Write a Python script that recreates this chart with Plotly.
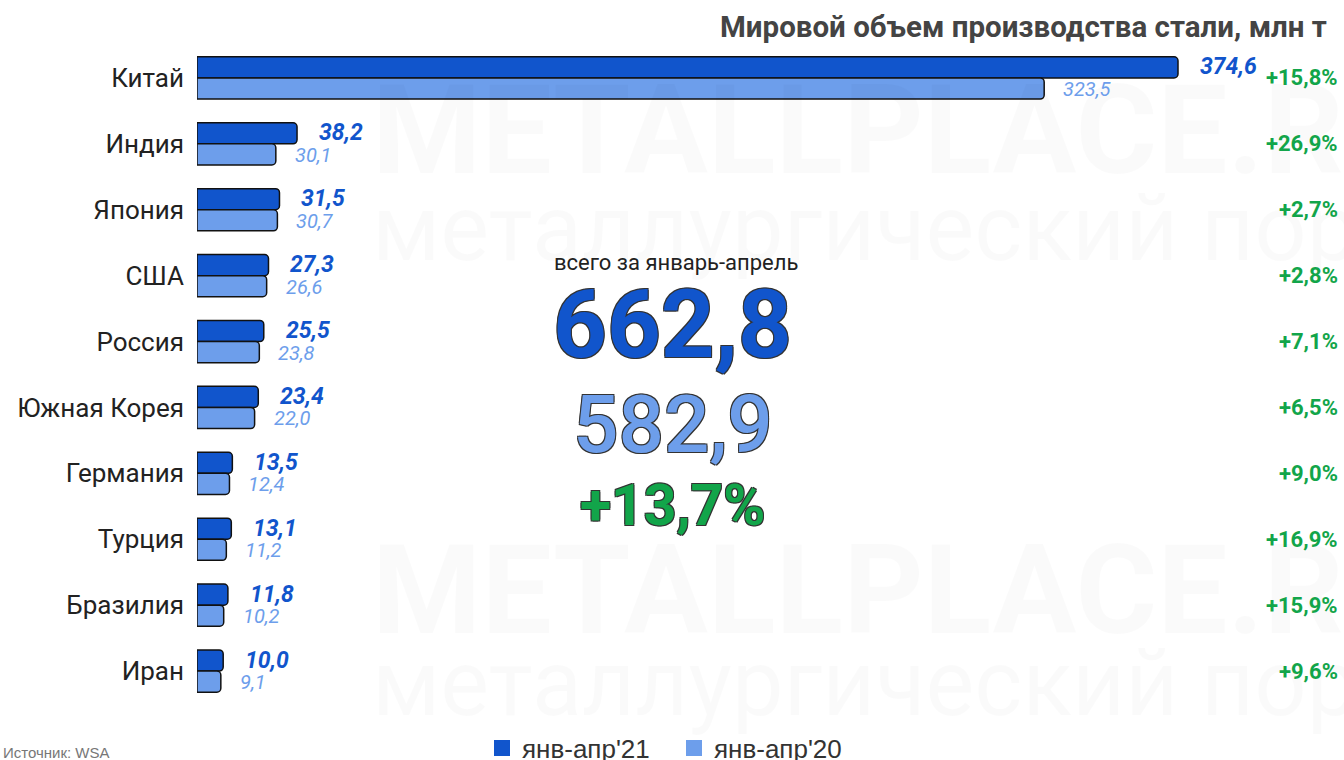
import plotly.graph_objects as go

countries = ["Китай", "Индия", "Япония", "США", "Россия", "Южная Корея", "Германия", "Турция", "Бразилия", "Иран"]
vals21 = [374.6, 38.2, 31.5, 27.3, 25.5, 23.4, 13.5, 13.1, 11.8, 10.0]
vals20 = [323.5, 30.1, 30.7, 26.6, 23.8, 22.0, 12.4, 11.2, 10.2, 9.1]
changes = ["+15,8%", "+26,9%", "+2,7%", "+2,8%", "+7,1%", "+6,5%", "+9,0%", "+16,9%", "+15,9%", "+9,6%"]
name21 = "янв-апр'21"
name20 = "янв-апр'20"
total_label = "всего за январь-апрель"
total21 = "662,8"
total20 = "582,9"
total_change = "+13,7%"
title = "Мировой объем производства стали, млн т"
source = "Источник: WSA"

DARK = "#1155cc"
LIGHT = "#6d9eeb"
GREEN = "#12a54a"

# page geometry (body margin removed in post_script)
OFF = 0
PL, PR, PT, PB = 197, 1344, 45, 704
PW, PH = PR - PL, PB - PT


def px(x):
    return (x - PL) / PW


def py(y):
    return (PB - y) / PH


def fmt(v):
    return f"{v:.1f}".replace(".", ",")


fig = go.Figure()
fig.add_trace(go.Bar(y=countries, x=vals21, orientation="h", name=name21,
                     marker=dict(color=DARK, line=dict(color="#111", width=1.5)),
                     showlegend=False, hoverinfo="skip"))
fig.add_trace(go.Bar(y=countries, x=vals20, orientation="h", name=name20,
                     marker=dict(color=LIGHT, line=dict(color="#111", width=1.5)),
                     showlegend=False, hoverinfo="skip"))
for nm, col in [(name21, DARK), (name20, LIGHT)]:
    fig.add_trace(go.Scatter(x=[None], y=[None], mode="markers", name=nm,
                             marker=dict(symbol="square", size=20, color=col)))

ann = []
WM = "rgba(0,0,0,0.018)"
for yy, txt, sz, bold in [(130, "METALLPLACE.RU", 125, True), (228, "металлургический портал", 92, False),
                          (590, "METALLPLACE.RU", 125, True), (683, "металлургический портал", 92, False)]:
    ann.append(dict(xref="paper", yref="paper", x=px(370), y=py(yy), xanchor="left", yanchor="middle",
                    text=f"<b>{txt}</b>" if bold else txt, showarrow=False,
                    font=dict(family="Roboto", size=sz, color=WM)))

for c, v21, v20, ch in zip(countries, vals21, vals20, changes):
    ann.append(dict(x=v21, y=c, xref="x", yref="y", xanchor="left", yanchor="middle",
                    xshift=20, yshift=11, text=f"<b><i>{fmt(v21)}</i></b>", showarrow=False,
                    font=dict(family="Roboto", size=23, color=DARK)))
    ann.append(dict(x=v20, y=c, xref="x", yref="y", xanchor="left", yanchor="middle",
                    xshift=17, yshift=-11, text=f"<i>{fmt(v20)}</i>", showarrow=False,
                    font=dict(family="Roboto", size=20, color=LIGHT)))
    ann.append(dict(x=1, y=c, xref="paper", yref="y", xanchor="right", yanchor="middle",
                    xshift=-4, text=f"<b>{ch}</b>", showarrow=False,
                    font=dict(family="Roboto", size=22, color=GREEN)))

outline = "-1px -1px 0 #333, 1px -1px 0 #333, -1px 1px 0 #333, 1px 1px 0 #333"
ann += [
    dict(xref="paper", yref="paper", x=px(676), y=py(262), text=total_label,
         showarrow=False, xanchor="center", yanchor="middle",
         font=dict(family="Roboto", size=22, color="#222")),
    dict(xref="paper", yref="paper", x=px(672), y=py(325), text=f"<b>{total21}</b>",
         showarrow=False, xanchor="center", yanchor="middle",
         font=dict(family="Roboto", size=94, color=DARK, shadow=outline)),
    dict(xref="paper", yref="paper", x=px(673), y=py(425), text=total20,
         showarrow=False, xanchor="center", yanchor="middle",
         font=dict(family="Roboto", size=80, weight=500, color=LIGHT, shadow=outline)),
    dict(xref="paper", yref="paper", x=px(672), y=py(505), text=f"<b>{total_change}</b>",
         showarrow=False, xanchor="center", yanchor="middle",
         font=dict(family="Roboto", size=57, color=GREEN, shadow=outline)),
    dict(xref="paper", yref="paper", x=1, y=py(27), xshift=-15, text=f"<b>{title}</b>",
         showarrow=False, xanchor="right", yanchor="middle",
         font=dict(family="Roboto", size=29.5, color="#444")),
    dict(xref="paper", yref="paper", x=0, y=py(752), xshift=OFF + 1 - PL, text=source,
         showarrow=False, xanchor="left", yanchor="middle",
         font=dict(family="Liberation Sans", size=15, color="#777")),
]

fig.update_layout(
    width=1344 - OFF, height=760 - OFF,
    margin=dict(l=PL - OFF, r=0, t=PT - OFF, b=760 - PB, autoexpand=False),
    plot_bgcolor="white", paper_bgcolor="white",
    barmode="group", bargap=0.36, bargroupgap=0, barcornerradius=4,
    xaxis=dict(range=[0, PW / ((1178 - PL) / vals21[0])], visible=False, fixedrange=True),
    yaxis=dict(categoryorder="array", categoryarray=countries, autorange="reversed",
               showgrid=False, zeroline=False, showline=False, ticks="",
               ticklabelstandoff=12, fixedrange=True,
               tickfont=dict(family="Roboto", size=26, color="#222")),
    legend=dict(orientation="h", x=px(482), xanchor="left", y=py(748), yanchor="middle",
                entrywidth=147, entrywidthmode="pixels",
                font=dict(family="Liberation Sans", size=26, color="#333"),
                bgcolor="rgba(0,0,0,0)"),
    annotations=ann,
    showlegend=True,
)

fig.write_html("out.html", config={"displayModeBar": False},
               post_script="document.body.style.margin='0';document.body.style.overflow='hidden';")
